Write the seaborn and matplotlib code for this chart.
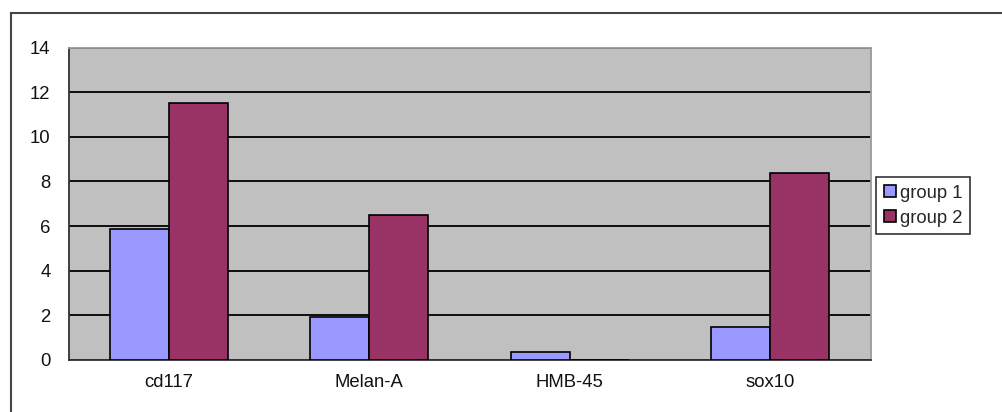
import matplotlib
matplotlib.use("Agg")
import matplotlib.pyplot as plt
import seaborn as sns
import pandas as pd
from matplotlib.patches import Rectangle

categories = ["cd117", "Melan-A", "HMB-45", "sox10"]
group1 = [5.85, 1.93, 0.37, 1.5]
group2 = [11.5, 6.5, 0.0, 8.37]
series_names = ["group 1", "group 2"]
yticks = [0, 2, 4, 6, 8, 10, 12, 14]

df = pd.DataFrame({
    "category": categories * 2,
    "value": group1 + group2,
    "group": [series_names[0]] * 4 + [series_names[1]] * 4,
})

sns.set_theme(style="white")
plt.rcParams["font.family"] = ["Liberation Sans", "DejaVu Sans"]

fig = plt.figure(figsize=(10.02, 4.12), dpi=100)
ax = fig.add_axes([68.5 / 1002, 52 / 412, 802 / 1002, 312.5 / 412])

sns.barplot(data=df, x="category", y="value", hue="group", order=categories,
            hue_order=series_names, palette=["#9999FF", "#993366"], saturation=1,
            width=0.59, edgecolor="black", linewidth=1.2, ax=ax, zorder=3)

ax.set_facecolor("#C0C0C0")
ax.set_ylim(0, 14)
ax.set_xlim(-0.5, 3.5)
ax.set_yticks(yticks)
ax.set_yticklabels([str(t) for t in yticks], fontsize=13.3)
ax.set_xlabel("")
ax.set_ylabel("")
ax.yaxis.grid(True, color="black", linewidth=1.3, zorder=0)
ax.set_axisbelow(True)
for t in ax.get_xticklabels():
    t.set_fontsize(13.3)
    t.set_color("#111111")
for t in ax.get_yticklabels():
    t.set_color("#111111")

ax.tick_params(axis="x", which="major", length=0, pad=10)
ax.set_xticks([0.5, 1.5, 2.5], minor=True)
ax.tick_params(axis="x", which="minor", direction="in", length=4, width=1.2, color="black")
ax.tick_params(axis="y", which="major", direction="in", length=4, width=1.2, color="black", pad=13)

for s in ["left", "bottom"]:
    ax.spines[s].set_color("#333333")
    ax.spines[s].set_linewidth(1.3)
for s in ["top", "right"]:
    ax.spines[s].set_color("#9a9a9a")
    ax.spines[s].set_linewidth(1.3)

leg = ax.legend(loc="upper left", bbox_to_anchor=(876 / 1002, (412 - 177) / 412),
                bbox_transform=fig.transFigure, frameon=True, fancybox=False,
                edgecolor="black", fontsize=13.3, handlelength=0.66, handleheight=0.66,
                handletextpad=0.2, borderpad=0.42, labelspacing=0.42, borderaxespad=0)
leg.get_frame().set_linewidth(1.2)
for h in leg.legend_handles:
    h.set_edgecolor("black")
    h.set_linewidth(1.2)

fig.patches.append(Rectangle((10.5 / 1002, -0.1), 1.2, (412 - 13) / 412 + 0.1,
                             transform=fig.transFigure, fill=False,
                             edgecolor="#444444", linewidth=1.5, zorder=0))

fig.savefig("out.png", dpi=100)
